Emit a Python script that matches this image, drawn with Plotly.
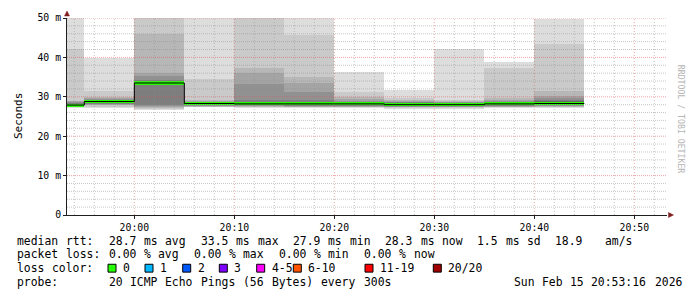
import re
from datetime import datetime, timedelta
import plotly.graph_objects as go

# ---------------- data ----------------
DAY = "2026-02-15"
interval_start = ["19:50", "19:55", "20:00", "20:05", "20:10", "20:15",
                  "20:20", "20:25", "20:30", "20:35", "20:40"]
interval_seconds = 300
median_rtt = [27.9, 28.8, 33.5, 28.3, 28.2, 28.2, 28.2, 28.0, 28.0, 28.2, 28.3]

# 20 sorted ping rtts (ms) for each 5-minute step
pings_1950 = [27.1, 27.3, 27.4, 27.5, 27.6, 27.7, 27.7, 27.8, 27.8, 27.9,
              27.9, 28.0, 28.1, 28.3, 28.5, 28.7, 28.9, 29.0, 42.2, 55.0]
pings_1955 = [27.2, 27.5, 27.8, 28.0, 28.2, 28.3, 28.4, 28.5, 28.6, 28.7,
              28.9, 29.0, 29.1, 29.2, 29.3, 29.4, 29.6, 30.0, 31.4, 39.9]
pings_2000 = [26.7, 26.9, 27.2, 27.5, 27.7, 27.8, 32.9, 33.1, 33.3, 33.4,
              33.6, 33.7, 33.8, 34.0, 34.2, 35.2, 36.0, 46.0, 55.0, 60.0]
pings_2005 = [27.3, 27.4, 27.5, 27.6, 27.7, 27.8, 27.9, 28.0, 28.1, 28.2,
              28.3, 28.4, 28.5, 28.6, 28.7, 28.8, 29.0, 29.2, 34.6, 55.0]
pings_2010 = [27.1, 27.3, 27.5, 27.6, 27.7, 27.8, 27.9, 28.0, 28.1, 28.2,
              28.3, 28.4, 28.5, 28.7, 29.3, 33.2, 36.0, 37.4, 52.0, 58.0]
pings_2015 = [27.1, 27.3, 27.4, 27.5, 27.6, 27.7, 27.8, 27.9, 28.0, 28.2,
              28.4, 28.5, 28.6, 28.8, 29.1, 31.2, 33.5, 34.9, 45.6, 55.0]
pings_2020 = [27.2, 27.3, 27.4, 27.5, 27.6, 27.7, 27.8, 27.9, 28.0, 28.2,
              28.3, 28.5, 28.6, 28.7, 28.8, 29.0, 29.4, 29.9, 31.2, 36.4]
pings_2025 = [27.0, 27.2, 27.3, 27.4, 27.5, 27.6, 27.7, 27.8, 27.9, 28.0,
              28.1, 28.3, 28.4, 28.5, 28.6, 28.8, 29.0, 29.3, 29.7, 31.8]
pings_2030 = [27.0, 27.1, 27.3, 27.4, 27.5, 27.6, 27.7, 27.8, 27.9, 28.0,
              28.1, 28.2, 28.3, 28.4, 28.5, 28.6, 28.7, 28.9, 29.2, 42.2]
pings_2035 = [27.2, 27.3, 27.4, 27.5, 27.6, 27.7, 27.8, 27.9, 28.0, 28.1,
              28.3, 28.4, 28.5, 28.6, 28.8, 29.0, 29.3, 29.6, 37.3, 38.9]
pings_2040 = [27.1, 27.3, 27.5, 27.6, 27.7, 27.8, 27.9, 28.0, 28.1, 28.2,
              28.4, 28.6, 28.8, 29.0, 29.3, 29.7, 30.2, 31.4, 43.3, 49.7]

y_tick_values = [0, 10, 20, 30, 40, 50]
y_tick_labels = ["0", "10 m", "20 m", "30 m", "40 m", "50 m"]
x_tick_labels = ["20:00", "20:10", "20:20", "20:30", "20:40", "20:50"]
view_start = "19:53:16"
view_end = "20:53:16"

legend_median = "median rtt:  28.7 ms avg  33.5 ms max  27.9 ms min  28.3 ms now  1.5 ms sd  18.9   am/s"
legend_loss = "packet loss: 0.00 % avg  0.00 % max  0.00 % min  0.00 % now"
legend_color_title = "loss color:"
loss_labels = ["0", "1", "2", "3", "4-5", "6-10", "11-19", "20/20"]
loss_colors = ["#26ff00", "#00b8ff", "#0059ff", "#7e00ff", "#ff00ff", "#ff5500", "#ff0000", "#a10000"]
legend_probe = "probe:       20 ICMP Echo Pings (56 Bytes) every 300s"
legend_date = "Sun Feb 15 20:53:16 2026"

# ---------------- figure ----------------
pings = [pings_1950, pings_1955, pings_2000, pings_2005, pings_2010, pings_2015,
         pings_2020, pings_2025, pings_2030, pings_2035, pings_2040]
xs = [f"{DAY} {t}:00" for t in interval_start]
W_MS = interval_seconds * 1000

W, H = 697, 297
L, R, T, B = 67, 30, 15, 82
PW, PH = W - L - R, H - T - B
FONT = "DejaVu Sans Mono"

fig = go.Figure()

# smoke: 10 nested bands, ping i .. ping (21-i)
n = 20
half = n // 2
for ibot in range(1, half + 1):
    itop = n + 1 - ibot
    c = int(190 / half * (half - ibot)) + 50
    col = f"rgb({c},{c},{c})"
    fig.add_trace(go.Bar(
        x=xs, base=[p[ibot - 1] for p in pings],
        y=[p[itop - 1] - p[ibot - 1] for p in pings],
        width=[W_MS] * len(xs), offset=0,
        marker=dict(color=col, line=dict(width=0)),
        showlegend=False, hoverinfo="skip"))

# grid (drawn above smoke, below median)
def dt(s):
    return datetime.strptime(f"{DAY} {s}", "%Y-%m-%d %H:%M:%S")

t0, t1 = dt(view_start), dt(view_end)
minor_t, major_t = [], []
t = dt("19:54:00")
while t < t1:
    (major_t if t.minute % 10 == 0 else minor_t).append(t)
    t += timedelta(minutes=2)
minor_v = [v for v in range(2, 50, 2) if v % 10]
major_v = [v for v in y_tick_values if v > 0]

def hlines(vals):
    X, Y = [], []
    for v in vals:
        X += [t0, t1, None]
        Y += [v, v, None]
    return X, Y

def vlines(times):
    X, Y = [], []
    for tt in times:
        X += [tt, tt, None]
        Y += [0, 50, None]
    return X, Y

GRID = "rgba(143,143,143,0.5)"
MGRID = "rgba(222,79,79,0.5)"
for fn, vals, colr, dash in [(hlines, minor_v, GRID, "1px,1px"), (vlines, minor_t, GRID, "1px,2px"),
                             (hlines, major_v, MGRID, "1px,1px"), (vlines, major_t, MGRID, "1px,2px")]:
    X, Y = fn(vals)
    fig.add_trace(go.Scatter(x=X, y=Y, mode="lines",
                             line=dict(color=colr, width=1, dash=dash),
                             showlegend=False, hoverinfo="skip"))

# median: black step line, then loss-coloured band
end_x = (datetime.strptime(xs[-1], "%Y-%m-%d %H:%M:%S") + timedelta(seconds=interval_seconds)).strftime("%Y-%m-%d %H:%M:%S")
fig.add_trace(go.Scatter(x=xs + [end_x], y=median_rtt + [median_rtt[-1]],
                         mode="lines", line=dict(color="black", width=1, shape="hv"),
                         showlegend=False, hoverinfo="skip"))
band = 0.78
fig.add_trace(go.Bar(x=xs, base=[m - band / 2 for m in median_rtt], y=[band] * len(xs),
                     width=[W_MS] * len(xs), offset=0,
                     marker=dict(color=loss_colors[0], line=dict(width=0)),
                     showlegend=False, hoverinfo="skip"))

AXIS = "rgb(31,31,31)"
fig.update_layout(
    width=W, height=H, margin=dict(l=L, r=R, t=T, b=B),
    paper_bgcolor="white", plot_bgcolor="white",
    barmode="overlay", bargap=0, showlegend=False,
    font=dict(family=FONT, color="black"),
    xaxis=dict(type="date", range=[t0, t1], showgrid=False, zeroline=False,
               showline=True, linecolor=AXIS, linewidth=1,
               tickvals=[f"{DAY} {s}:00" for s in x_tick_labels], ticktext=x_tick_labels,
               ticks="outside", ticklen=3, tickcolor=AXIS,
               tickfont=dict(family=FONT, size=9.8, color="black")),
    yaxis=dict(range=[0, 50], showgrid=False, zeroline=False,
               showline=True, linecolor=AXIS, linewidth=1,
               tickvals=y_tick_values, ticktext=y_tick_labels,
               ticks="outside", ticklen=3, tickcolor=AXIS,
               tickfont=dict(family=FONT, size=9.8, color="black")),
)

ARROW = "rgb(128,31,31)"
fig.add_shape(type="path", xref="paper", yref="paper", xsizemode="pixel", ysizemode="pixel",
              xanchor=0, yanchor=1, path="M -2.5,2 L 2.5,2 L 0,7 Z",
              fillcolor=ARROW, line=dict(color=ARROW, width=0.5), layer="above")
fig.add_shape(type="path", xref="paper", yref="paper", xsizemode="pixel", ysizemode="pixel",
              xanchor=1, yanchor=0, path="M 1.5,-2.5 L 1.5,2.5 L 6.5,0 Z",
              fillcolor=ARROW, line=dict(color=ARROW, width=0.5), layer="above")

def px2paper(x, y):
    return (x - L) / PW, (T + PH - y) / PH

CW = 7.09
LEG_FONT = dict(family=FONT, size=11.4, color="black")

def add_text(text, x_px, y_px):
    for m in re.finditer(r"\S+", text):
        px, py = px2paper(x_px + m.start() * CW - 0.5, y_px)
        fig.add_annotation(x=px, y=py, xref="paper", yref="paper", text=m.group(),
                           xanchor="left", yanchor="middle", showarrow=False,
                           font=LEG_FONT, borderpad=0)

ROW = [241, 255, 269, 283]
add_text(legend_median, 16, ROW[0])
add_text(legend_loss, 16, ROW[1])
add_text(legend_color_title, 16, ROW[2])
add_text(legend_probe, 16, ROW[3])
add_text(legend_date, 513, ROW[3])

square_x = [108, 145, 182.7, 219.3, 256.7, 293.3, 365, 433.3]
for sx, lab, colr in zip(square_x, loss_labels, loss_colors):
    xa, ya = px2paper(sx, ROW[2] - 4)
    xb, yb = px2paper(sx + 8, ROW[2] + 4)
    fig.add_shape(type="rect", xref="paper", yref="paper", x0=xa, x1=xb, y0=yb, y1=ya,
                  fillcolor=colr, line=dict(color="black", width=1), layer="above")
    add_text(lab, sx + 14.3, ROW[2])

sx, sy = px2paper(10, 115)
fig.add_annotation(x=sx, y=sy, xref="paper", yref="paper", text="Seconds", textangle=-90,
                   showarrow=False, font=dict(family=FONT, size=11, color="black"))
wx, wy = px2paper(688, 60)
fig.add_annotation(x=wx, y=wy, xref="paper", yref="paper", text="RRDTOOL / TOBI OETIKER",
                   textangle=90, showarrow=False,
                   font=dict(family=FONT, size=8.2, color="#b4b4b4"))

fig.write_html("out.html")
